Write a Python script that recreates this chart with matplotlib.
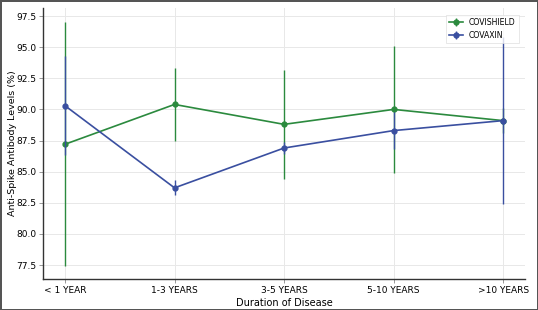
import matplotlib
matplotlib.use("Agg")
import matplotlib.pyplot as plt

categories = ["< 1 YEAR", "1-3 YEARS", "3-5 YEARS", "5-10 YEARS", ">10 YEARS"]
covishield = [87.2, 90.4, 88.8, 90.0, 89.1]
covishield_err = [9.8, 2.9, 4.4, 5.1, 1.0]
covaxin = [90.3, 83.7, 86.9, 88.3, 89.1]
covaxin_err = [4.0, 0.6, 0.5, 1.5, 6.7]
yticks = [77.5, 80.0, 82.5, 85.0, 87.5, 90.0, 92.5, 95.0, 97.5]

fig = plt.figure(figsize=(5.38, 3.10), dpi=100)
fig.patch.set_edgecolor("#555555")
fig.patch.set_linewidth(2)
ax = fig.add_axes([0.080, 0.100, 0.896, 0.874])

x = list(range(len(categories)))
green = "#2b8a3e"
blue = "#3a4fa0"
ax.errorbar(x, covishield, yerr=covishield_err, color=green, marker="o", markersize=3.5,
            linewidth=1.2, elinewidth=1.0, capsize=0, label="COVISHIELD", zorder=3)
ax.errorbar(x, covaxin, yerr=covaxin_err, color=blue, marker="o", markersize=3.5,
            linewidth=1.2, elinewidth=1.0, capsize=0, label="COVAXIN", zorder=4)

ax.set_xticks(x)
ax.set_xticklabels(categories, fontsize=6.5)
ax.set_yticks(yticks)
ax.set_yticklabels([f"{v:.1f}" for v in yticks], fontsize=6.5)
ax.set_xlim(-0.2, 4.2)
ax.set_ylim(76.38, 98.14)
ax.grid(True, color="#e8e8e8", linewidth=0.7)
ax.set_axisbelow(True)
for s in ["top", "right"]:
    ax.spines[s].set_visible(False)
for s in ["left", "bottom"]:
    ax.spines[s].set_color("#333333")
    ax.spines[s].set_linewidth(1.0)
ax.tick_params(length=3, width=0.6, color="#888888", pad=2)
ax.set_xlabel("Duration of Disease", fontsize=7, labelpad=2)
ax.set_ylabel("Anti-Spike Antibody Levels (%)", fontsize=6.8)
ax.yaxis.set_label_coords(-0.054, 0.5)
leg = ax.legend(loc="upper right", fontsize=5.6, frameon=True, fancybox=False,
                borderpad=0.4, handlelength=1.7, bbox_to_anchor=(0.995, 0.99))
leg.get_frame().set_edgecolor("#dddddd")
leg.get_frame().set_linewidth(0.6)

fig.savefig("out.png", dpi=100)
